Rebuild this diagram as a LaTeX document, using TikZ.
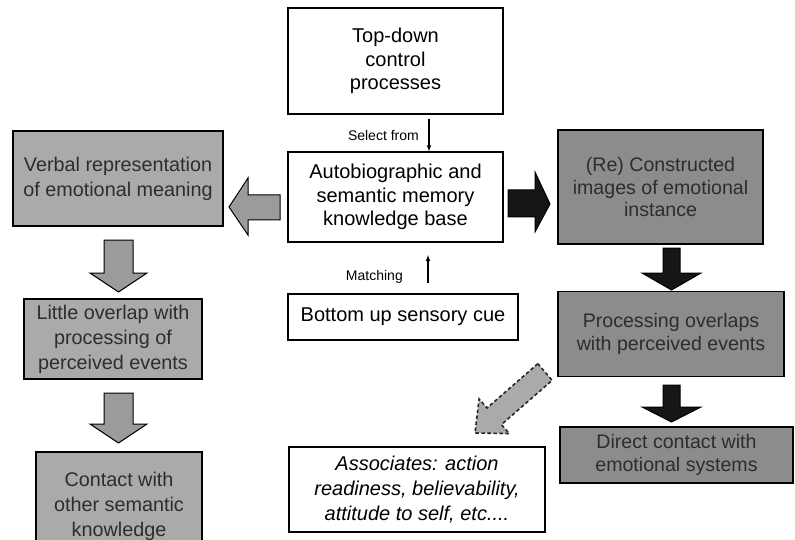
\documentclass[tikz,border=0pt]{standalone}
\usepackage{fontspec}
\setmainfont{Liberation Sans}
\usetikzlibrary{calc}
\definecolor{lgray}{RGB}{170,170,170}
\definecolor{dgray}{RGB}{140,140,140}
\definecolor{agray}{RGB}{155,155,155}
\definecolor{blk}{RGB}{22,22,22}
\definecolor{txtg}{RGB}{45,45,45}
\begin{document}
\begin{tikzpicture}[x=1pt,y=-1pt,
  box/.style={draw=black, line width=1.2pt, align=center, inner sep=0pt},
  wbox/.style={box, fill=white, font=\fontsize{20}{23.5}\selectfont},
  lbox/.style={box, fill=lgray, text=txtg, font=\fontsize{19.8}{25}\selectfont},
  dbox/.style={box, fill=dgray, text=txtg, font=\fontsize{19.6}{22.5}\selectfont},
  ibox/.style={box, fill=white, font=\fontsize{20}{25}\selectfont\itshape},
  lab/.style={font=\fontsize{14}{16}\selectfont, inner sep=0pt},
  thin/.style={line width=1.1pt, -latex},
  garrow/.style={draw=black, line width=1pt, fill=agray},
  barrow/.style={draw=black, line width=1pt, fill=blk},
  darrow/.style={draw=black!85, line width=1.6pt, dash pattern=on 3.5pt off 2.5pt, fill=lgray}
]
\useasboundingbox (0,0) rectangle (795,540);
\clip (0,0) rectangle (795,540);

% centre column
\node[wbox, minimum width=215pt, minimum height=106pt] (top) at (395.5,61) {Top-down\\control\\processes};
\node[wbox, minimum width=215pt, minimum height=90pt] (auto) at (395.5,197) {Autobiographic and\\semantic memory\\knowledge base};
\node[wbox, minimum width=230pt, minimum height=46pt] (bottom) at (403,317) {Bottom up sensory cue};
\node[ibox, minimum width=256pt, minimum height=85pt] (assoc) at (417,489.5) {Associates: action\\readiness, believability,\\attitude to self, etc....};

% left column
\node[lbox, minimum width=210pt, minimum height=95pt] (verbal) at (118,178.5) {Verbal representation\\of emotional meaning};
\node[lbox, minimum width=178pt, minimum height=80pt] (little) at (113,339) {Little overlap with\\processing of\\perceived events};
\node[lbox, minimum width=166pt, minimum height=108pt] (contact) at (119,506) {Contact with\\other semantic\\knowledge};

% right column
\node[dbox, minimum width=205pt, minimum height=114pt] (recon) at (660.5,187) {(Re) Constructed\\images of emotional\\instance};
\node[dbox, minimum width=226pt, minimum height=85pt] (proc) at (671,334) {Processing overlaps\\with perceived events};
\node[dbox, minimum width=233pt, minimum height=56pt] (direct) at (676.5,455) {Direct contact with\\emotional systems};

% thin arrows and labels
\coordinate (selx) at (429,0);
\draw[thin] ($(top.south -| selx)+(0,4)$) -- (auto.north -| selx);
\node[lab, anchor=east] (sel) at (419,135) {Select from};
\coordinate (m1) at (428,283);
\coordinate (m2) at (428,255);
\draw[thin] (m1) -- (m2);
\node[lab, anchor=east] (match) at (403,277) {Matching};

% left block arrow (auto -> verbal)
\draw[garrow] (280,195) -- (248,195) -- (248,178) -- (229,207) -- (248,235) -- (248,220) -- (280,220) -- cycle;
% left down arrows
\draw[garrow] (104,240) -- (133,240) -- (133,273) -- (147,273) -- (118.5,292) -- (90,273) -- (104,273) -- cycle;
\draw[garrow] (104,393) -- (133,393) -- (133,424) -- (147,424) -- (118.5,443) -- (90,424) -- (104,424) -- cycle;

% right block arrow (auto -> recon)
\draw[barrow] (508,190) -- (535,190) -- (535,172) -- (550,204) -- (535,232) -- (535,217) -- (508,217) -- cycle;
% right down arrows
\draw[barrow] (663,248) -- (680,248) -- (680,273) -- (701,273) -- (671.5,290) -- (642,273) -- (663,273) -- cycle;
\draw[barrow] (663,385) -- (680,385) -- (680,407) -- (701,407) -- (671.5,422) -- (642,407) -- (663,407) -- cycle;

% dashed diagonal arrow (proc -> assoc)
\draw[darrow] (537.8,363.7) -- (487.0,408.0) -- (479.1,399.0) -- (475,433) -- (509.3,433.6) -- (501.4,424.6) -- (552.2,380.3) -- cycle;
\end{tikzpicture}
\end{document}
